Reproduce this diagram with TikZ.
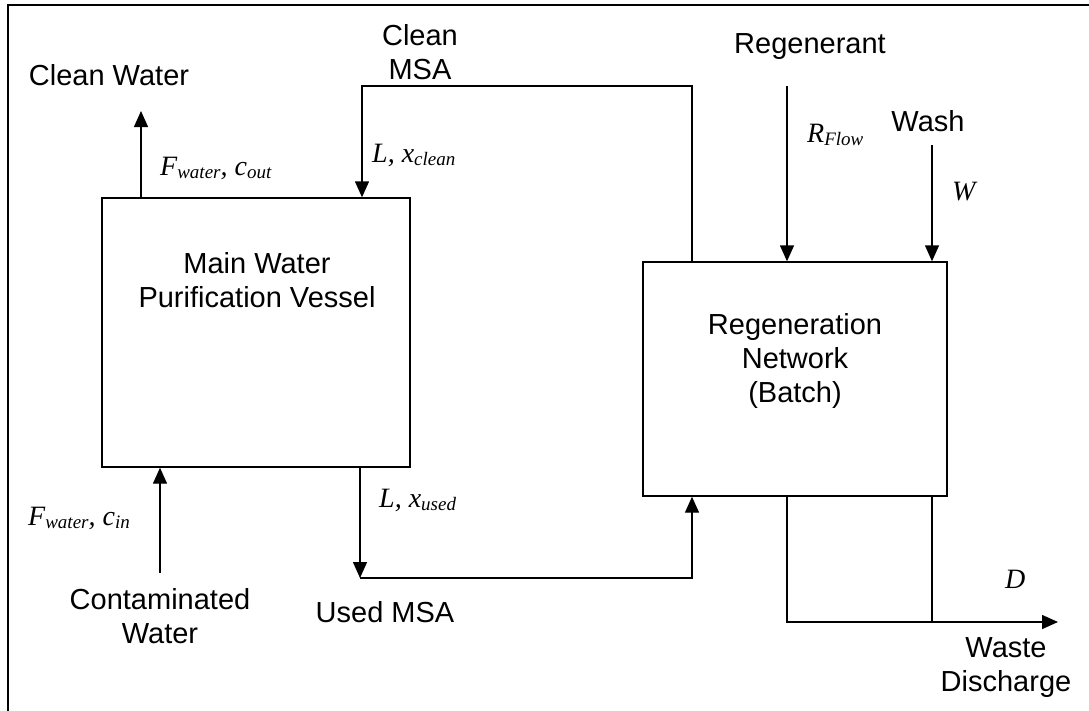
\documentclass[tikz,border=0pt]{standalone}
\usepackage{fontspec}
\setmainfont{Liberation Sans}
\newfontfamily\varfont{Liberation Serif}
\usetikzlibrary{arrows.meta}

% lowered, smaller subscript for the stream variables
\newcommand\sbs[1]{\raisebox{-3.5pt}{\fontsize{19}{19}\selectfont #1}}

\begin{document}
\begin{tikzpicture}[x=1pt,y=-1pt,
  pipe/.style={line width=1.4pt},
  flow/.style={pipe, -{Triangle[length=16pt,width=14pt]}},
  unit/.style={draw, line width=1.4pt, inner sep=0pt},
  tag/.style={font=\fontsize{29}{34}\selectfont, align=center, inner sep=0pt},
  var/.style={font=\varfont\itshape\fontsize{28}{30}\selectfont, inner sep=0pt, anchor=base west},
]
\useasboundingbox (0,0) rectangle (1089,710);

% frame
\draw[line width=2pt] (8,712) -- (8,5) -- (1091,5);

% process units
\node[unit, minimum width=308pt, minimum height=269pt] (mwp) at (256,332.5) {};
\node[unit, minimum width=304pt, minimum height=234pt] (reg) at (795,379) {};
\node[tag] (mwptxt) at (257,280) {Main Water\\Purification Vessel};
\node[tag] (regtxt) at (795,361) {Regeneration\\Network\\(Batch)};

% stream ends and corners
\coordinate (cwout) at (141,111);
\coordinate (msaL) at (362,86);
\coordinate (msaR) at (692,86);
\coordinate (rgin) at (787,86);
\coordinate (wsin) at (932,145);
\coordinate (cwin) at (160,573);
\coordinate (usL) at (360,578);
\coordinate (usR) at (692,578);
\coordinate (wdL) at (787,622);
\coordinate (wdR) at (932,622);
\coordinate (wdE) at (1058,622);

% streams
\draw[flow] (mwp.north -| cwout) -- (cwout);
\draw[flow] (reg.north -| msaR) -- (msaR) -- (msaL) -- (mwp.north -| msaL);
\draw[flow] (rgin) -- (reg.north -| rgin);
\draw[flow] (wsin) -- (reg.north -| wsin);
\draw[flow] (cwin) -- (mwp.south -| cwin);
\draw[flow] (mwp.south -| usL) -- (usL);
\draw[flow] (usL) -- (usR) -- (reg.south -| usR);
\draw[flow] (reg.south -| wdL) -- (wdL) -- (wdE);
\draw[pipe] (reg.south -| wdR) -- (wdR);

% stream names
\node[tag] (cwname) at (109,75) {Clean Water};
\node[tag] (msaname) at (420,52) {Clean\\MSA};
\node[tag] (rgname) at (810,47) {Regenerant};
\node[tag] (wsname) at (928,121) {Wash};
\node[tag] (ctname) at (160,616) {Contaminated\\Water};
\node[tag] (usname) at (385,612) {Used MSA};
\node[tag] (wdname) at (1006,668) {Waste\\Discharge};

% stream variables
\node[var] (vcwout) at (160,175) {F\sbs{water}, c\sbs{out}};
\node[var] (vclean) at (372,162) {L, x\sbs{clean}};
\node[var] (vrg) at (807,142) {R\sbs{Flow}};
\node[var] (vws) at (952,200) {W};
\node[var] (vcwin) at (28,525) {F\sbs{water}, c\sbs{in}};
\node[var] (vused) at (379,507) {L, x\sbs{used}};
\node[var] (vwd) at (1005,588) {D};
\end{tikzpicture}
\end{document}
